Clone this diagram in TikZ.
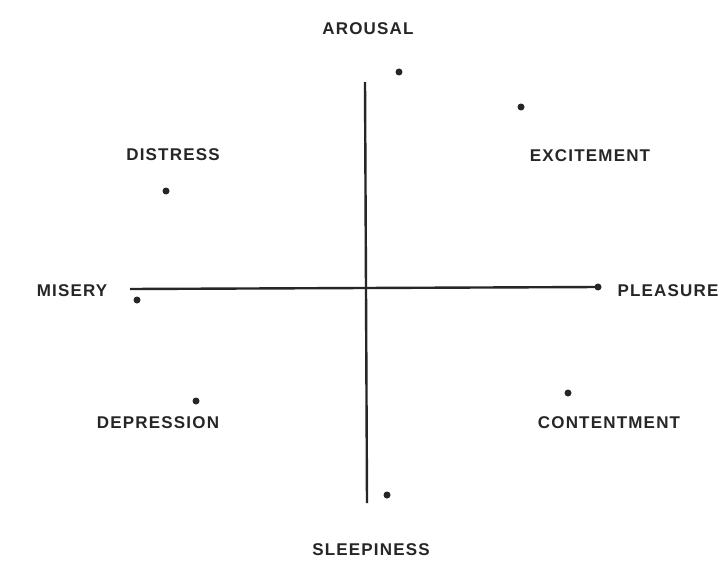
\documentclass[tikz,border=0pt]{standalone}
\usepackage{fontspec}
\setmainfont[LetterSpace=7]{Liberation Sans}
\begin{document}
\begin{tikzpicture}[x=1pt,y=-1pt,
  lbl/.style={font=\bfseries\fontsize{17}{20}\selectfont, inner sep=0pt, text=black!85},
  axis/.style={line width=2.4pt, black!85},
  pt/.style={circle, fill=black!85, minimum size=7pt, inner sep=0pt}]
\useasboundingbox[fill=white] (0,0) rectangle (719,567);
% axes
\coordinate (vtop) at (365,82);
\coordinate (vbot) at (367,503);
\coordinate (hleft) at (130,289);
\node[pt] (pleasureDot) at (598,287) {};
\draw[axis] (vtop) -- (366,290) -- (vbot);
\draw[axis] (hleft) -- (pleasureDot.center);
% dots
\node[pt] (arousalDot) at (399,72) {};
\node[pt] (excitementDot) at (521,107) {};
\node[pt] (distressDot) at (166,191) {};
\node[pt] (miseryDot) at (137,300) {};
\node[pt] (depressionDot) at (196,401) {};
\node[pt] (contentmentDot) at (568,393) {};
\node[pt] (sleepinessDot) at (387,495) {};
% labels
\node[lbl] (arousal) at (368,29) {AROUSAL};
\node[lbl] (excitement) at (590,156) {EXCITEMENT};
\node[lbl] (distress) at (173,155) {DISTRESS};
\node[lbl] (misery) at (72,291) {MISERY};
\node[lbl] (pleasure) at (668,291) {PLEASURE};
\node[lbl] (depression) at (158,423) {DEPRESSION};
\node[lbl] (contentment) at (609,423) {CONTENTMENT};
\node[lbl] (sleepiness) at (371,550) {SLEEPINESS};
\end{tikzpicture}
\end{document}
